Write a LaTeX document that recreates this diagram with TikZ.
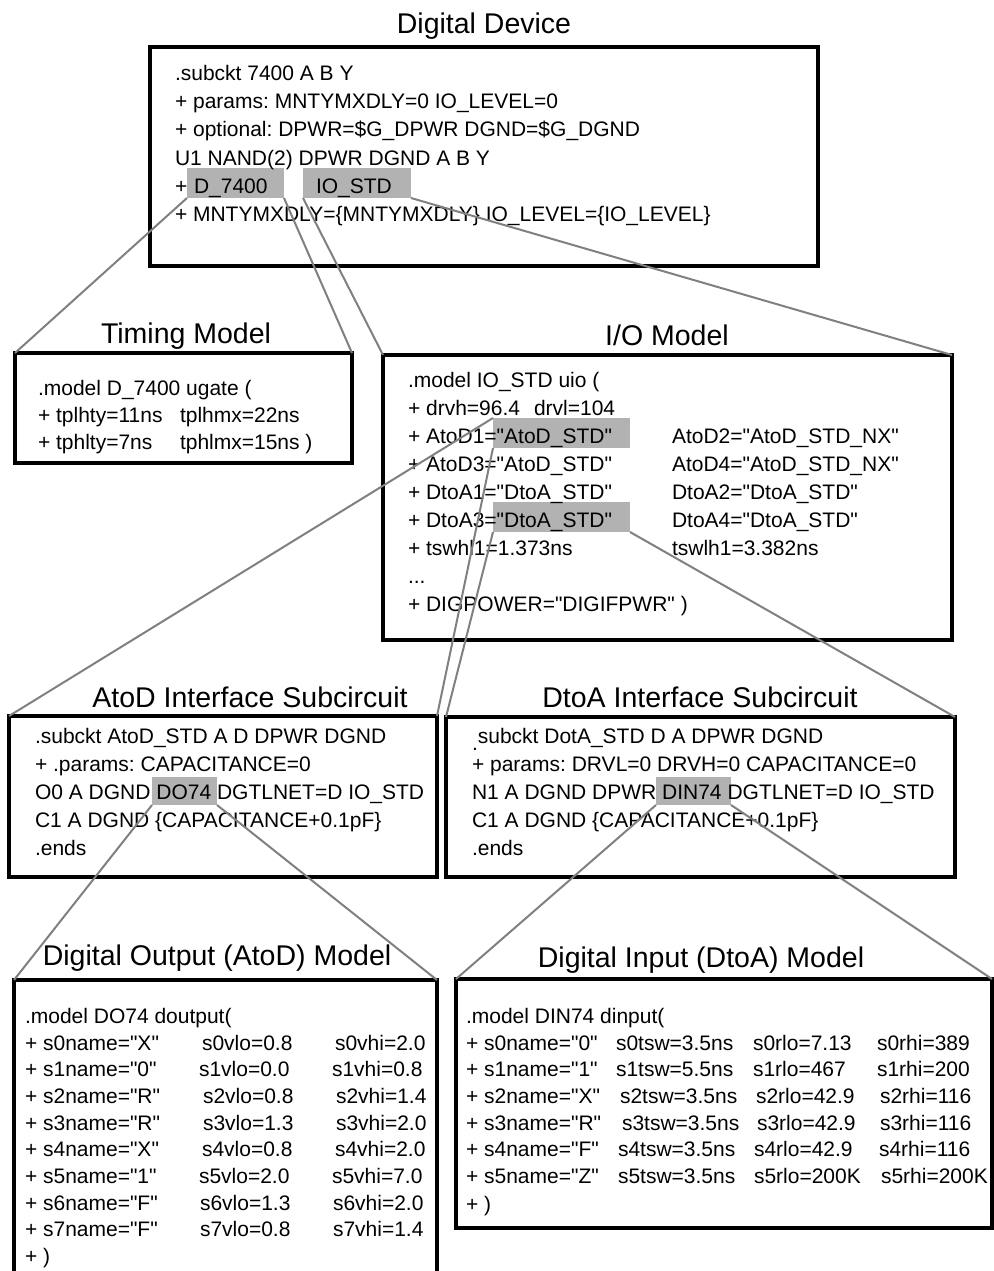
\documentclass[tikz,border=0pt]{standalone}
\usepackage{fontspec}
\setmainfont{Liberation Sans}[Ligatures=TeXOff]
\frenchspacing
\definecolor{hlgray}{RGB}{178,178,178}
\definecolor{linkgray}{RGB}{128,128,128}
\newcommand\bodyfnt{\fontsize{21}{25}\selectfont}
\newcommand\ttlfnt{\fontsize{28.5}{34}\selectfont}
\tikzset{
  box/.style={draw=black, line width=3.2pt, fill=white, inner sep=0pt, outer sep=0pt, anchor=north west},
  hl/.style={fill=hlgray, inner sep=0pt, outer sep=0pt, anchor=north west},
  txt/.style={anchor=base west, inner sep=0pt, outer sep=0pt, font=\bodyfnt},
  ttl/.style={anchor=base, inner sep=0pt, outer sep=0pt, font=\ttlfnt},
  link/.style={draw=linkgray, line width=2pt},
}
\begin{document}
\begin{tikzpicture}[x=1pt,y=-1pt]
\useasboundingbox[fill=white] (0,0) rectangle (993,1271);

% ---------- boxes ----------
\node[box, minimum width=668pt, minimum height=219pt] (top) at (150,47) {};
\node[box, minimum width=337pt, minimum height=110pt] (tim) at (15,353) {};
\node[box, minimum width=569pt, minimum height=285pt] (io) at (383,355) {};
\node[box, minimum width=428pt, minimum height=161pt] (atod) at (9,716) {};
\node[box, minimum width=509pt, minimum height=160pt] (dtoa) at (446,717) {};
\node[box, minimum width=536pt, minimum height=249pt] (di) at (456,979) {};
\coordinate (doNW) at (14,980);
\coordinate (doNE) at (437,980);
\coordinate (doSW) at (14,1290);
\coordinate (doSE) at (437,1290);
\draw[line width=3.2pt, fill=white] (doSW) -- (doNW) -- (doNE) -- (doSE);

% ---------- highlights ----------
\node[hl, minimum width=97pt, minimum height=30pt] (hlD) at (187,168) {};
\node[hl, minimum width=108pt, minimum height=30pt] (hlIO) at (303,168) {};
\node[hl, minimum width=137pt, minimum height=30pt] (hlA) at (493,418) {};
\node[hl, minimum width=137pt, minimum height=30pt] (hlB) at (493,502) {};
\node[hl, minimum width=65pt, minimum height=28pt] (hlDO) at (152,777) {};
\node[hl, minimum width=75pt, minimum height=28pt] (hlDIN) at (656,777) {};

% ---------- titles ----------
\node[ttl] (t1) at (484,34) {Digital Device};
\node[ttl] (t2) at (186,343) {Timing Model};
\node[ttl] (t3) at (667,345) {I/O Model};
\node[ttl] (t4) at (250,707) {AtoD Interface Subcircuit};
\node[ttl] (t5) at (700,707) {DtoA Interface Subcircuit};
\node[ttl] (t6) at (217,965) {Digital Output (AtoD) Model};
\node[ttl] (t7) at (701,967) {Digital Input (DtoA) Model};

% ---------- digital device ----------
\node[txt] (a1) at (175,81) {.subckt 7400 A B Y};
\node[txt] (a2) at (175,109) {+ params: MNTYMXDLY=0 IO\_LEVEL=0};
\node[txt] (a3) at (175,137) {+ optional: DPWR=\$G\_DPWR DGND=\$G\_DGND};
\node[txt] (a4) at (175,165) {U1 NAND(2) DPWR DGND A B Y};
\node[txt] (a5) at (175,193) {+};
\node[txt] (a5b) at (194,193) {D\_7400};
\node[txt] (a5c) at (316,193) {IO\_STD};
\node[txt] (a6) at (175,221) {+ MNTYMXDLY=\{MNTYMXDLY\} IO\_LEVEL=\{IO\_LEVEL\}};

% ---------- timing model ----------
\node[txt] (b1) at (38,395) {.model D\_7400 ugate (};
\node[txt] (b2) at (38,422) {+ tplhty=11ns};
\node[txt] (b2b) at (180,422) {tplhmx=22ns};
\node[txt] (b3) at (38,449) {+ tphlty=7ns};
\node[txt] (b3b) at (180,449) {tphlmx=15ns )};

% ---------- I/O model ----------
\node[txt] (c1) at (408,387) {.model IO\_STD uio (};
\node[txt] (c2) at (408,415) {+ drvh=96.4};
\node[txt] (c2b) at (534,415) {drvl=104};
\node[txt] (c3) at (408,443) {+ AtoD1="AtoD\_STD"};
\node[txt] (c3b) at (672,443) {AtoD2="AtoD\_STD\_NX"};
\node[txt] (c4) at (408,471) {+ AtoD3="AtoD\_STD"};
\node[txt] (c4b) at (672,471) {AtoD4="AtoD\_STD\_NX"};
\node[txt] (c5) at (408,499) {+ DtoA1="DtoA\_STD"};
\node[txt] (c5b) at (672,499) {DtoA2="DtoA\_STD"};
\node[txt] (c6) at (408,527) {+ DtoA3="DtoA\_STD"};
\node[txt] (c6b) at (672,527) {DtoA4="DtoA\_STD"};
\node[txt] (c7) at (408,555) {+ tswhl1=1.373ns};
\node[txt] (c7b) at (672,555) {tswlh1=3.382ns};
\node[txt] (c8) at (408,583) {...};
\node[txt] (c9) at (408,611) {+ DIGPOWER="DIGIFPWR" )};

% ---------- AtoD subcircuit ----------
\node[txt] (d1) at (35,743) {.subckt AtoD\_STD A D DPWR DGND};
\node[txt] (d2) at (35,771) {+ .params: CAPACITANCE=0};
\node[txt] (d3) at (35,799) {O0 A DGND DO74 DGTLNET=D IO\_STD};
\node[txt] (d4) at (35,827) {C1 A DGND \{CAPACITANCE+0.1pF\}};
\node[txt] (d5) at (35,855) {.ends};

% ---------- DtoA subcircuit ----------
\node[txt] (e1) at (472,743) {\raisebox{-7pt}{.}subckt DotA\_STD D A DPWR DGND};
\node[txt] (e2) at (472,771) {+ params: DRVL=0 DRVH=0 CAPACITANCE=0};
\node[txt] (e3) at (472,799) {N1 A DGND DPWR DIN74 DGTLNET=D IO\_STD};
\node[txt] (e4) at (472,827) {C1 A DGND \{CAPACITANCE+0.1pF\}};
\node[txt] (e5) at (472,855) {.ends};

% ---------- digital output model ----------
\node[txt] (f0) at (25,1023) {.model DO74 doutput(};
\foreach \i/\nm/\xa/\va/\xb/\vb in {0/X/202/0.8/335/2.0, 1/0/199/0.0/332/0.8,
  2/R/203/0.8/336/1.4, 3/R/203/1.3/336/2.0, 4/X/202/0.8/335/2.0,
  5/1/199/2.0/332/7.0, 6/F/200/1.3/333/2.0, 7/F/200/0.8/333/1.4}{
  \node[txt] (fn\i) at (25,{1050+26.7*\i}) {+ s\i name="\nm"};
  \node[txt] (fl\i) at (\xa,{1050+26.7*\i}) {s\i vlo=\va};
  \node[txt] (fh\i) at (\xb,{1050+26.7*\i}) {s\i vhi=\vb};
}
\node[txt] (f9) at (25,1263.6) {+ )};

% ---------- digital input model ----------
\node[txt] (g0) at (466,1023) {.model DIN74 dinput(};
\foreach \i/\nm/\xa/\va/\xb/\vb/\xc/\vc in {0/0/616/3.5ns/753/7.13/877/389,
  1/1/616/5.5ns/753/467/877/200, 2/X/620/3.5ns/756/42.9/880/116,
  3/R/622/3.5ns/757/42.9/880/116, 4/F/618/3.5ns/754/42.9/879/116,
  5/Z/618/3.5ns/754/200K/881/200K}{
  \node[txt] (gn\i) at (466,{1050+26.7*\i}) {+ s\i name="\nm"};
  \node[txt] (gt\i) at (\xa,{1050+26.7*\i}) {s\i tsw=\va};
  \node[txt] (gl\i) at (\xb,{1050+26.7*\i}) {s\i rlo=\vb};
  \node[txt] (gh\i) at (\xc,{1050+26.7*\i}) {s\i rhi=\vc};
}
\node[txt] (g7) at (466,1211) {+ )};

% ---------- connectors ----------
\draw[link] (hlD.south west) -- (tim.north west);
\draw[link] (hlD.south east) -- (tim.north east);
\draw[link] (hlIO.south west) -- (io.north west);
\draw[link] (hlIO.south east) -- (io.north east);
\draw[link] (hlA.north west) -- (atod.north west);
\draw[link] (hlA.south west) -- (atod.north east);
\draw[link] (hlB.south west) -- (dtoa.north west);
\draw[link] (hlB.south east) -- (dtoa.north east);
\draw[link] (hlDO.south west) -- (doNW);
\draw[link] (hlDO.south east) -- (doNE);
\draw[link] (hlDIN.south west) -- (di.north west);
\draw[link] (hlDIN.south east) -- (di.north east);
\end{tikzpicture}
\end{document}
